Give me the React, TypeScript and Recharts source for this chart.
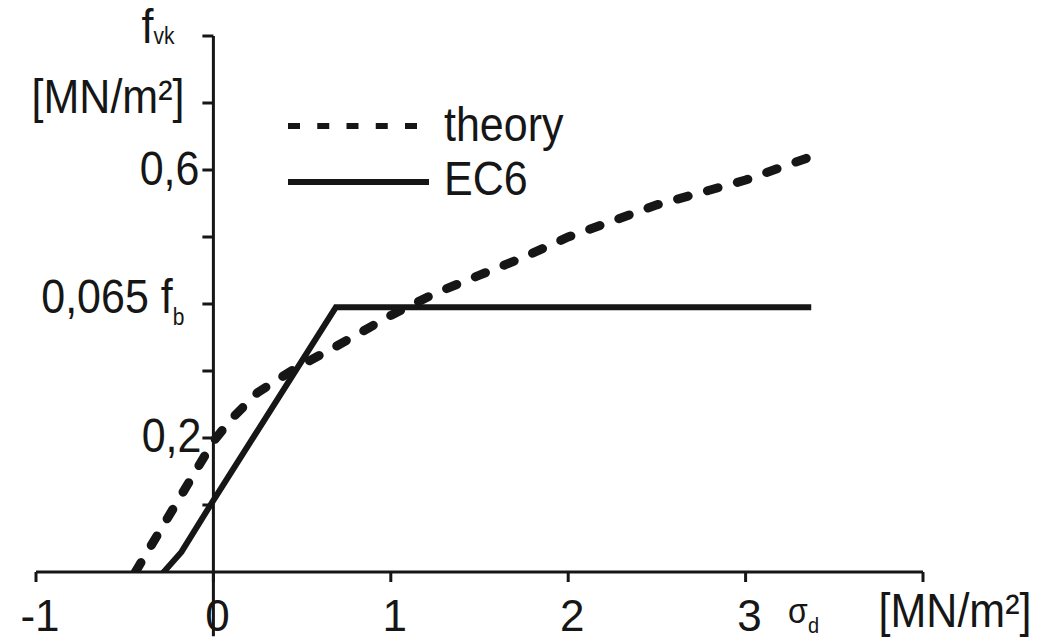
import { LineChart, Line, XAxis, YAxis, ReferenceLine, Legend } from "recharts"

// shear strength curves
const theoryX = [-0.44, 0, 0.1, 0.25, 0.45, 0.7, 1.0, 1.25, 1.5, 1.75, 2.0, 2.5, 3.0, 3.37]
const theoryY = [0, 0.195, 0.228, 0.268, 0.302, 0.338, 0.383, 0.416, 0.443, 0.47, 0.5, 0.548, 0.585, 0.62]
const ec6X = [-0.3, -0.18, 0, 0.69, 3.37]
const ec6Y = [-0.006, 0.03, 0.107, 0.395, 0.395]

const seriesNames = ["theory", "EC6"]

const xTicks = [-1, 0, 1, 2, 3, 4]
const xTickLabels = ["-1", "0", "1", "2", "3", ""]
const xUnitSymbol = "σ"
const xUnitSub = "d"
const xUnit = "[MN/m²]"

const yTicks = [0.1, 0.2, 0.3, 0.4, 0.5, 0.6, 0.7, 0.8]
const yLabelValues = [0.8, 0.7, 0.6, 0.4, 0.2]
const yLabelMain = ["f", "[MN/m²]", "0,6", "0,065 f", "0,2"]
const yLabelSub = ["vk", "", "", "b", ""]

const theoryData = theoryX.map((x, i) => ({ x, y: theoryY[i] }))
const ec6Data = ec6X.map((x, i) => ({ x, y: ec6Y[i] }))

const FONT = "'Liberation Sans', Arial, sans-serif"
const INK = "#161616"
const TICK_LEN = 0.062 // in x units, y-axis ticks are drawn as segments

// layout offsets for the y labels (dx from tick end, dy to baseline)
const yLabelDx = [-28, -18, -3, -18, -1]
const yLabelDy = [7, 10, 15, 9, 14]

function Stretched({ x, y, anchor, children, size = 43, sy = 1.1 }: any) {
  return (
    <g transform={`translate(${x},${y}) scale(1,${sy})`}>
      <text x={0} y={0} textAnchor={anchor} fontFamily={FONT} fontSize={size} fill={INK}>
        {children}
      </text>
    </g>
  )
}

function XTick(props: any) {
  const { x, y, index } = props
  const label = xTickLabels[index]
  if (!label) return null
  return <Stretched x={x + 4} y={y + 47} anchor="middle" size={44} sy={1}>{label}</Stretched>
}

function XUnitLabel(props: any) {
  const vb = props.viewBox || {}
  const right = vb.x + vb.width
  return (
    <g>
      <Stretched x={right - 135} y={623} anchor="start" size={32}>{xUnitSymbol}</Stretched>
      <Stretched x={right - 115} y={633} anchor="start" size={20}>{xUnitSub}</Stretched>
      <Stretched x={right + 32} y={627} anchor="middle">{xUnit}</Stretched>
    </g>
  )
}

function yLabel(i: number) {
  return (props: any) => {
    const vb = props.viewBox || {}
    const x0 = vb.x ?? vb.x1
    const y0 = vb.y ?? vb.y1
    return (
      <Stretched x={x0 + yLabelDx[i]} y={y0 + yLabelDy[i]} anchor="end">
        {yLabelMain[i]}
        {yLabelSub[i] ? (
          <tspan fontSize={21} dy={i === 0 ? 1 : 11}>{yLabelSub[i]}</tspan>
        ) : null}
      </Stretched>
    )
  }
}

function LegendBox() {
  return (
    <svg width={320} height={130} style={{ display: "block", overflow: "visible" }}>
      {seriesNames.map((name, i) => (
        <g key={name}>
          <line
            x1={8}
            x2={i === 0 ? 137 : 149}
            y1={26 + i * 56}
            y2={26 + i * 56}
            stroke={INK}
            strokeWidth={6}
            strokeDasharray={i === 0 ? "12 17.25" : undefined}
          />
          <Stretched x={164} y={41 + i * 54} anchor="start">{name}</Stretched>
        </g>
      ))}
    </svg>
  )
}

export default function App() {
  return (
    <div style={{ position: "absolute", left: 0, top: 0, background: "#fff" }}>
      <LineChart width={1050} height={641} margin={{ top: 36, right: 127, bottom: 0, left: 36 }}>
        <XAxis
          type="number"
          dataKey="x"
          domain={[-1, 4]}
          ticks={xTicks}
          allowDataOverflow
          height={69}
          axisLine={{ stroke: INK, strokeWidth: 3 }}
          tickLine={{ stroke: INK, strokeWidth: 3 }}
          tickSize={10}
          tick={<XTick />}
          interval={0}
          label={(p: any) => <XUnitLabel {...p} />}
        />
        <YAxis type="number" dataKey="y" domain={[0, 0.8]} allowDataOverflow hide width={0} />

        {/* y axis sits at x = 0 */}
        <ReferenceLine
          segment={[{ x: 0, y: -0.096 }, { x: 0, y: 0.8 }]}
          stroke={INK}
          strokeWidth={3}
          ifOverflow="visible"
        />
        {yTicks.map((v) => {
          const li = yLabelValues.indexOf(v)
          return (
            <ReferenceLine
              key={v}
              segment={[{ x: -TICK_LEN, y: v }, { x: 0, y: v }]}
              stroke={INK}
              strokeWidth={3}
              ifOverflow="visible"
              label={li >= 0 ? yLabel(li) : undefined}
            />
          )
        })}

        <Line
          data={theoryData}
          dataKey="y"
          name={seriesNames[0]}
          type="linear"
          stroke={INK}
          strokeWidth={9}
          strokeDasharray="11 20"
          strokeLinecap="round"
          dot={false}
          activeDot={false}
          isAnimationActive={false}
        />
        <Line
          data={ec6Data}
          dataKey="y"
          name={seriesNames[1]}
          type="linear"
          stroke={INK}
          strokeWidth={6}
          strokeLinejoin="miter"
          dot={false}
          activeDot={false}
          isAnimationActive={false}
        />
        <Legend
          layout="horizontal"
          verticalAlign="middle"
          align="center"
          wrapperStyle={{ position: "absolute", left: 280, top: 100, width: 320, height: 130 }}
          content={<LegendBox />}
        />
      </LineChart>
    </div>
  )
}
